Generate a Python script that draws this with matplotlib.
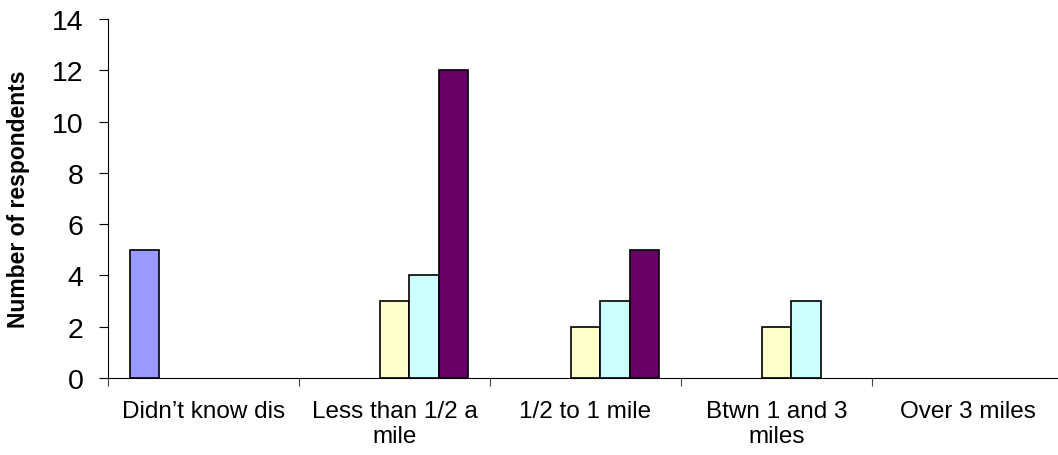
import matplotlib
matplotlib.use("Agg")
import matplotlib.pyplot as plt
import numpy as np

categories = ["Didn\u2019t know dis", "Less than 1/2 a\nmile", "1/2 to 1 mile", "Btwn 1 and 3\nmiles", "Over 3 miles"]
series_a = [5, 0, 0, 0, 0]
series_b = [0, 0, 0, 0, 0]
series_c = [0, 3, 2, 2, 0]
series_d = [0, 4, 3, 3, 0]
series_e = [0, 12, 5, 0, 0]
colors = ["#9999FF", "#993366", "#FFFFCC", "#CCFFFF", "#660066"]

plt.rcParams['font.family'] = ['Liberation Sans', 'DejaVu Sans']
fig = plt.figure(figsize=(10.58, 4.56), dpi=100)
W, H = 1058, 456
ax = fig.add_axes([108 / W, 1 - 379 / H, (1063 - 108) / W, (379 - 20) / H])

series = [series_a, series_b, series_c, series_d, series_e]
n = len(series)
gap = 1.5
bw = 1.0 / (n + gap)
x = np.arange(len(categories))
for i, (vals, c) in enumerate(zip(series, colors)):
    left = x + gap / 2 * bw + i * bw
    v = np.array(vals, dtype=float)
    mask = v > 0
    ax.bar(left[mask], v[mask], width=bw, align='edge', color=c, edgecolor='black', linewidth=1.2)

ax.set_xlim(0, len(categories))
ax.set_ylim(0, 14)
ax.set_yticks(range(0, 15, 2))
ax.set_xticks(np.arange(len(categories) + 1))
ax.set_xticklabels([])
ax.set_xticks(x + 0.5, minor=True)
ax.set_xticklabels(categories, minor=True, fontsize=17.5, linespacing=1.18)
ax.tick_params(axis='x', which='minor', length=0, pad=16)
ax.tick_params(axis='x', which='major', length=6, width=0.8, color='#444444')
ax.tick_params(axis='y', labelsize=20.5, length=6.5, width=0.8, pad=11)
ax.spines['top'].set_visible(False)
ax.spines['right'].set_visible(False)
ax.set_ylabel("Number of respondents", fontsize=16.5, fontweight='bold', labelpad=16)

fig.savefig("out.png", dpi=100)
